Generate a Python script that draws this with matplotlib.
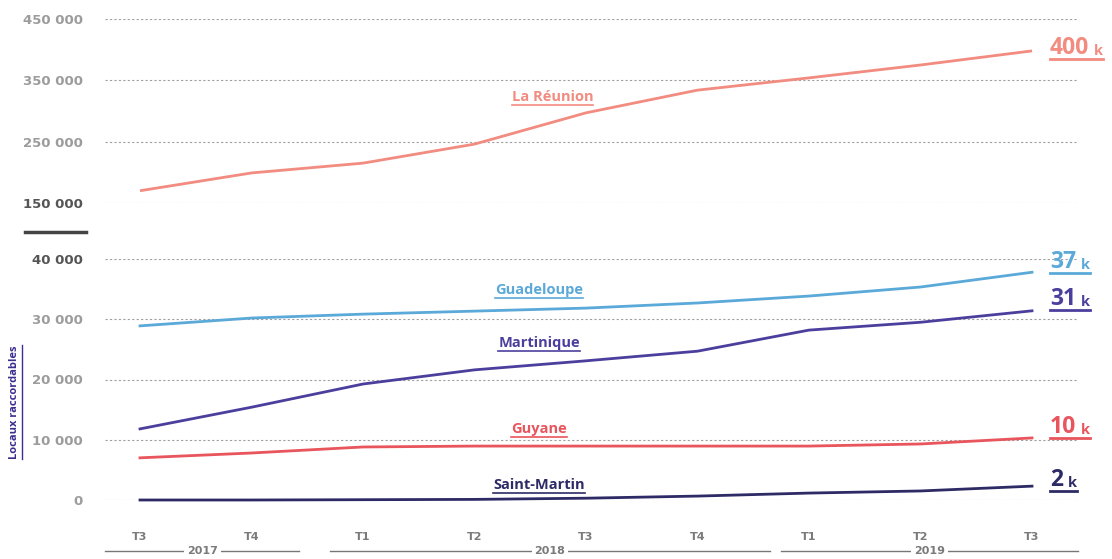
import matplotlib.pyplot as plt
from matplotlib.lines import Line2D
import numpy as np

# data (locaux raccordables, par trimestre)
quarters = ["T3", "T4", "T1", "T2", "T3", "T4", "T1", "T2", "T3"]
years = [("2017", -0.31, 1.43), ("2018", 1.70, 5.65), ("2019", 5.75, 8.41)]
reunion = [170000, 199000, 215000, 246000, 297000, 334000, 354000, 375000, 398000]
guadeloupe = [28900, 30200, 30850, 31350, 31850, 32700, 33850, 35350, 37800]
martinique = [11800, 15400, 19250, 21600, 23100, 24700, 28200, 29500, 31400]
guyane = [7000, 7800, 8800, 8950, 8950, 8950, 8950, 9300, 10300]
saint_martin = [0, 0, 50, 100, 300, 650, 1150, 1500, 2300]

c_reu, c_gua, c_mar, c_guy, c_stm = "#f28b80", "#5aa9d8", "#4b3f9e", "#e8555c", "#2d2a66"
grey = "#9c9c9c"
plt.rcParams["font.family"] = ["Open Sans", "DejaVu Sans"]

W, H = 1112, 559
fig = plt.figure(figsize=(W / 100, H / 100), dpi=100)
x = np.arange(len(quarters))
left, right = 105 / W, 1078 / W
xlim = (-(140 - 105) / 111.5, 8 + (1078 - 1032) / 111.5)

ax_top = fig.add_axes([left, 1 - 203 / H, right - left, 184 / H])
ax_bot = fig.add_axes([left, 1 - 500 / H, right - left, 241 / H])

for ax in (ax_top, ax_bot):
    ax.set_xlim(*xlim)
    for s in ax.spines.values():
        s.set_visible(False)
    ax.grid(axis="y", linestyle=(0, (2, 2)), color="#a0a0a0", linewidth=0.8)
    ax.set_axisbelow(True)
    ax.tick_params(axis="y", length=0, pad=16, labelcolor=grey)
    ax.tick_params(axis="x", length=0)

tick_font = dict(family="DejaVu Sans", fontweight="bold", fontsize=9.5)

ax_top.set_ylim(150000, 450000)
ax_top.set_yticks([150000, 250000, 350000, 450000])
ax_top.set_yticklabels(["150 000", "250 000", "350 000", "450 000"], **tick_font)
ax_top.set_xticks([])
ax_top.get_yticklabels()[0].set_color("#555555")

ax_bot.set_ylim(0, 40000)
ax_bot.set_yticks([0, 10000, 20000, 30000, 40000])
ax_bot.set_yticklabels(["0", "10 000", "20 000", "30 000", "40 000"], **tick_font)
ax_bot.get_yticklabels()[-1].set_color("#555555")
ax_bot.set_xticks(x)
ax_bot.set_xticklabels(quarters, fontsize=8, fontweight="bold", color="#7a7a7a",
                       family=["Liberation Sans Narrow", "DejaVu Sans"])
ax_bot.tick_params(axis="x", pad=23)

lw = 2.0
ax_top.plot(x, reunion, color=c_reu, lw=lw, clip_on=False, solid_capstyle="butt")
ax_bot.plot(x, guadeloupe, color=c_gua, lw=lw, clip_on=False)
ax_bot.plot(x, martinique, color=c_mar, lw=lw, clip_on=False)
ax_bot.plot(x, guyane, color=c_guy, lw=lw, clip_on=False)
ax_bot.plot(x, saint_martin, color=c_stm, lw=lw, clip_on=False)

fig.canvas.draw()
renderer = fig.canvas.get_renderer()


def underline(t, color, lw=1.2, gap=2):
    bb = t.get_window_extent(renderer)
    y = bb.y0 - gap
    fig.add_artist(Line2D([bb.x0 / W, bb.x1 / W], [y / H, y / H], color=color, lw=lw))


# series names
names = [(ax_top, 3.70, 323000, "La Réunion", c_reu),
         (ax_bot, 3.58, 34850, "Guadeloupe", c_gua),
         (ax_bot, 3.58, 26050, "Martinique", c_mar),
         (ax_bot, 3.58, 11750, "Guyane", c_guy),
         (ax_bot, 3.58, 2500, "Saint-Martin", c_stm)]
for ax, xx, yy, txt, col in names:
    t = ax.text(xx, yy, txt, color=col, fontsize=10.5, fontweight="bold",
                ha="center", va="center")
    fig.canvas.draw()
    underline(t, col, lw=1.2, gap=1)

# end values
ends = [(ax_top, 402800, "400", c_reu), (ax_bot, 39500, "37", c_gua),
        (ax_bot, 33350, "31", c_mar), (ax_bot, 12100, "10", c_guy),
        (ax_bot, 3300, "2", c_stm)]
for ax, yy, num, col in ends:
    t = ax.text(8.16, yy, num, color=col, fontsize=16.5, fontweight="bold",
                ha="left", va="center", clip_on=False)
    fig.canvas.draw()
    bb = t.get_window_extent(renderer)
    k = fig.text((bb.x1 + 5) / W, (bb.y0 + 2) / H, "k", color=col, fontsize=10.5,
                 fontweight="bold", ha="left", va="bottom")
    fig.canvas.draw()
    kb = k.get_window_extent(renderer)
    fig.add_artist(Line2D([bb.x0 / W, kb.x1 / W], [(bb.y0 + 1) / H] * 2,
                          color=col, lw=2.0))

# year groups
for yr, a, b in years:
    ax_bot.plot([a, b], [-0.21, -0.21], color="#777777", lw=1.0, clip_on=False,
                transform=ax_bot.get_xaxis_transform())
    ax_bot.text((a + b) / 2, -0.21, yr, transform=ax_bot.get_xaxis_transform(),
                ha="center", va="center", fontsize=8, fontweight="bold", color="#7a7a7a",
                family=["Liberation Sans Narrow", "DejaVu Sans"],
                bbox=dict(facecolor="white", edgecolor="none", pad=2))

# axis break mark
fig.add_artist(Line2D([25 / W, 86 / W], [1 - 232 / H] * 2, color="#444444", lw=2.5))

# y label
yl = fig.text(15 / W, 1 - 402 / H, "Locaux raccordables", rotation=90, color="#3b2f8f",
              fontsize=8, fontweight="bold", ha="center", va="center")
fig.canvas.draw()
bb = yl.get_window_extent(renderer)
fig.add_artist(Line2D([(bb.x1 + 1) / W] * 2, [bb.y0 / H, bb.y1 / H], color="#3b2f8f", lw=1.0))

fig.savefig("out.png", dpi=100, facecolor="white")
